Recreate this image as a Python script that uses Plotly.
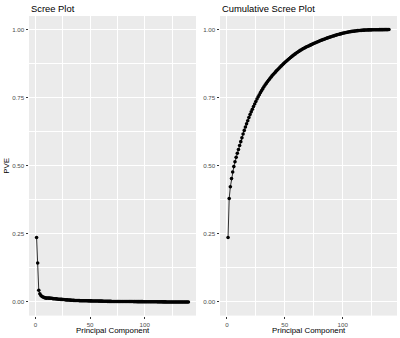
import numpy as np
import plotly.graph_objects as go

# Proportion of variance explained by each principal component
pve = [
    0.237, 0.143, 0.043,
    0.030, 0.024, 0.020, 0.018, 0.016, 0.015, 0.014,
    0.0145, 0.0142, 0.0140, 0.0138, 0.0135,
    0.0122, 0.0118, 0.0116, 0.0114, 0.0110,
    0.0100, 0.0098, 0.0096, 0.0094, 0.0092, 0.0090,
    0.0082, 0.0079, 0.0076, 0.0074, 0.0071, 0.0068,
    0.0064, 0.0062, 0.0059, 0.0057, 0.0055, 0.0054, 0.0052, 0.0050, 0.0047,
    0.0047, 0.0046, 0.0045, 0.0044, 0.0043, 0.0043, 0.0042, 0.0041, 0.0040, 0.0039,
    0.0038, 0.0037, 0.0036, 0.0035, 0.0034, 0.0034, 0.0033, 0.0032, 0.0031, 0.0030,
    0.0029, 0.0028, 0.0027, 0.0026, 0.0024, 0.0023, 0.0022, 0.0021, 0.0020, 0.0020,
    0.0020, 0.0020, 0.0019, 0.0019, 0.0019, 0.0019, 0.0019, 0.0018, 0.0018, 0.0018,
    0.0017, 0.0017, 0.0016, 0.0016, 0.0016, 0.0015, 0.0015, 0.0015, 0.0014, 0.0014,
    0.0014, 0.0013, 0.0013, 0.0013, 0.0012, 0.0012, 0.0012, 0.0011, 0.0011, 0.0011,
    0.0010, 0.0009, 0.0009, 0.0008, 0.0008, 0.0007, 0.0007, 0.0006, 0.0006, 0.0006,
    0.0005, 0.0005, 0.0004, 0.0004, 0.0004, 0.0003, 0.0003, 0.0003, 0.0002, 0.0002,
    0.0002, 0.0001, 0.0001, 0.0001, 0.0001, 0.0001, 0.0001, 0.0001, 0.0001,
    0.00005, 0.00005, 0.00005, 0.00005, 0.00005, 0.00005, 0.00005, 0.00005, 0.00005, 0.00005,
]
components = list(range(1, len(pve) + 1))
cum_pve = np.cumsum(pve)

x_ticks = [0, 50, 100]
y_ticks = [0.0, 0.25, 0.5, 0.75, 1.0]
y_tick_labels = ["0.00", "0.25", "0.50", "0.75", "1.00"]

titles = ["Scree Plot", "Cumulative Scree Plot"]
x_title = "Principal Component"
y_title = "PVE"

FONT = "Liberation Sans, Arial, sans-serif"
TEXT_COLOR = "#000000"
TICK_COLOR = "#4D4D4D"
PANEL_BG = "#EBEBEB"

fig = go.Figure()

line_style = dict(color="black", width=0.8)
marker_style = dict(color="black", size=3.6, line=dict(width=0))

fig.add_trace(go.Scatter(x=components, y=pve, mode="lines+markers",
                         line=line_style, marker=marker_style,
                         xaxis="x", yaxis="y", showlegend=False))
fig.add_trace(go.Scatter(x=components, y=cum_pve, mode="lines+markers",
                         line=line_style, marker=marker_style,
                         xaxis="x2", yaxis="y2", showlegend=False))

n = len(pve)
pad_x = 0.05 * (n - 1)
x_range = [1 - pad_x, n + pad_x]
y_range = [-0.05, 1.05]

W, H = 400, 338
left_dom = [29 / W, 196 / W]
right_dom = [220 / W, 397 / W]
y_dom = [(H - 315.6) / H, (H - 16) / H]


def x_axis(domain, anchor):
    return dict(
        domain=domain, anchor=anchor, range=x_range,
        tickmode="array", tickvals=x_ticks, ticktext=[str(v) for v in x_ticks],
        showgrid=True, gridcolor="white", gridwidth=1.1,
        minor=dict(tickmode="array", tickvals=[25, 75, 125], showgrid=True,
                   gridcolor="white", gridwidth=0.55, ticks=""),
        zeroline=False, showline=False,
        ticks="outside", ticklen=2.5, tickwidth=1, tickcolor="#333333",
        tickfont=dict(family=FONT, size=6.2, color=TICK_COLOR),
        automargin=False,
    )


def y_axis(domain, anchor):
    return dict(
        domain=domain, anchor=anchor, range=y_range,
        tickmode="array", tickvals=y_ticks, ticktext=y_tick_labels,
        showgrid=True, gridcolor="white", gridwidth=1.1,
        minor=dict(tickmode="array", tickvals=[0.125, 0.375, 0.625, 0.875],
                   showgrid=True, gridcolor="white", gridwidth=0.55, ticks=""),
        zeroline=False, showline=False,
        ticks="outside", ticklen=2.5, tickwidth=1, tickcolor="#333333",
        tickfont=dict(family=FONT, size=6.2, color=TICK_COLOR),
        automargin=False,
    )


fig.update_layout(
    width=W, height=H,
    margin=dict(l=0, r=0, t=0, b=0),
    paper_bgcolor="white", plot_bgcolor=PANEL_BG,
    xaxis=x_axis(left_dom, "y"),
    yaxis=y_axis(y_dom, "x"),
    xaxis2=x_axis(right_dom, "y2"),
    yaxis2=y_axis(y_dom, "x2"),
    font=dict(family=FONT, color=TEXT_COLOR),
)

annotations = [
    dict(text=titles[0], x=left_dom[0], y=1 - 8.5 / H, xanchor="left", yanchor="middle",
         font=dict(size=9.4)),
    dict(text=titles[1], x=right_dom[0], y=1 - 8.5 / H, xanchor="left", yanchor="middle",
         font=dict(size=9.4)),
    dict(text=x_title, x=sum(left_dom) / 2, y=1 - 330 / H, xanchor="center", yanchor="middle",
         font=dict(size=7.9)),
    dict(text=x_title, x=sum(right_dom) / 2, y=1 - 330 / H, xanchor="center", yanchor="middle",
         font=dict(size=7.9)),
    dict(text=y_title, x=7 / W, y=sum(y_dom) / 2, xanchor="center", yanchor="middle",
         textangle=-90, font=dict(size=7.9)),
]
for a in annotations:
    a.update(xref="paper", yref="paper", showarrow=False)
    a["font"]["family"] = FONT
    a["font"]["color"] = TEXT_COLOR
fig.update_layout(annotations=annotations)

fig.write_html("out.html")
